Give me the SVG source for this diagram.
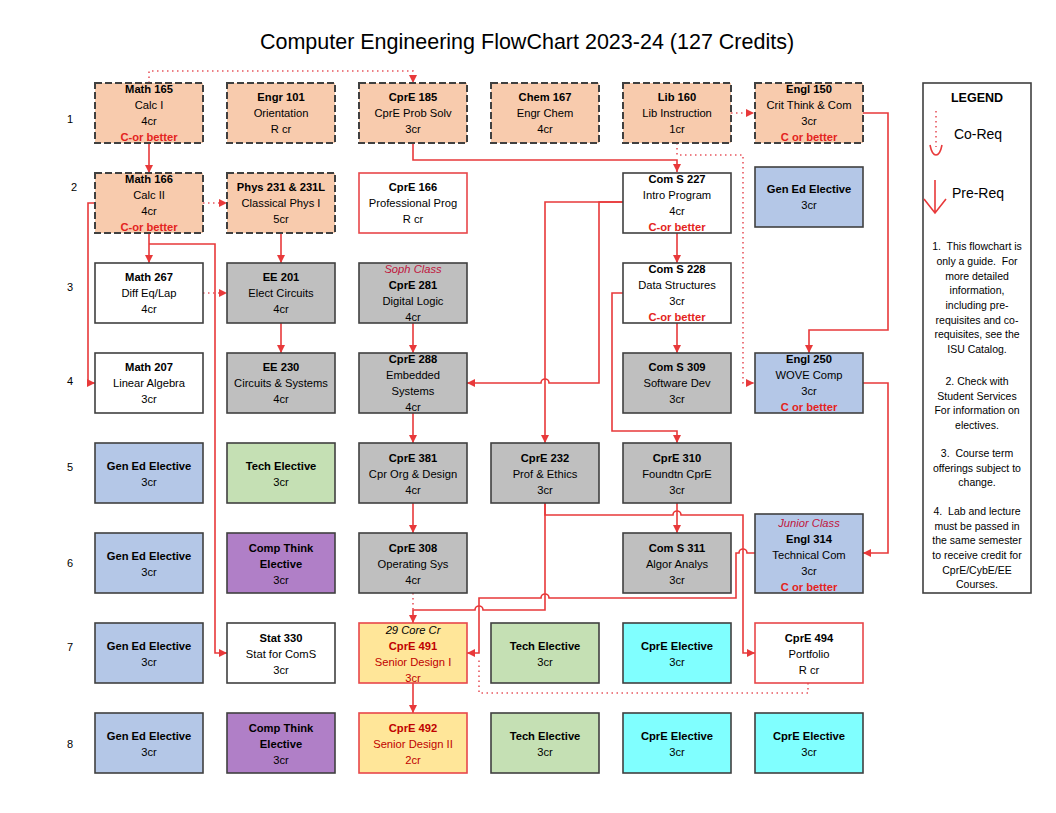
<svg xmlns="http://www.w3.org/2000/svg" width="1056" height="813" viewBox="0 0 1056 813">
<defs>
<style>
text{font-family:"Liberation Sans",Arial,sans-serif;font-size:11.2px;text-anchor:middle;fill:#000}
.b{font-weight:bold}
.r{font-weight:bold;fill:#E42320}
.i{font-style:italic;fill:#C0143C}
.ib{font-style:italic}
.dr{fill:#C00000}
.drb{fill:#C00000;font-weight:bold}
rect.n{stroke:#404040;stroke-width:1.6}
rect.peach{fill:#F8CBAD;stroke-dasharray:7 3;stroke-width:2}
rect.gray{fill:#BFBFBF}
rect.white{fill:#FFFFFF}
rect.blue{fill:#B4C7E7}
rect.green{fill:#C5E0B4}
rect.purple{fill:#B07FC7}
rect.cyan{fill:#80FFFF}
rect.yellow{fill:#FFE699}
rect.redb{stroke:#E8474A}
.c path{fill:none;stroke:#E8393A;stroke-width:1.6}
.c path.a{marker-end:url(#ah)}
.c path.d{stroke:#E8555E;stroke-dasharray:1.5 3.5}
.title{font-size:21.5px}
.row{font-size:11px}
.note{font-size:10.5px;white-space:pre}
.leg{font-size:14px}
</style>
<marker id="ah" viewBox="0 0 10 10" refX="10" refY="5" markerWidth="8" markerHeight="8" markerUnits="userSpaceOnUse" orient="auto">
<path d="M0,0 L10,5 L0,10 z" fill="#E8393A"/>
</marker>
</defs>
<rect width="1056" height="813" fill="#FFFFFF"/>
<text class="title" x="527" y="49">Computer Engineering FlowChart 2023-24 (127 Credits)</text>

<g id="row-labels">
<text class="row" x="70" y="123">1</text>
<text class="row" x="74" y="191">2</text>
<text class="row" x="70" y="291">3</text>
<text class="row" x="70" y="385">4</text>
<text class="row" x="70" y="471">5</text>
<text class="row" x="70" y="567">6</text>
<text class="row" x="70" y="651">7</text>
<text class="row" x="70" y="748">8</text>
</g>

<g id="connectors" class="c">
<path class="a" d="M149,143 V173"/>
<path class="d a" d="M149,83 V71 H413 V83"/>
<path class="a" d="M413,143 V160 H677 V172"/>
<path class="d a" d="M731,113 H754"/>
<path class="d a" d="M677,143 V155 H743 V383 H754"/>
<path class="a" d="M863,113 H888 V330 H809 V353"/>
<path class="d a" d="M203,203 H227"/>
<path class="a" d="M149,233 V263"/>
<path class="a" d="M149,244 H215 V653 H227"/>
<path class="a" d="M95,203 H88 V383 H95"/>
<path class="a" d="M281,233 V263"/>
<path class="d a" d="M203,293 H227"/>
<path class="a" d="M281,323 V353"/>
<path class="a" d="M413,323 V353"/>
<path class="a" d="M677,233 V263"/>
<path class="a" d="M623,202 H599 V383 H549 A4,4 0 0 0 541,383 H467"/>
<path class="a" d="M623,202 H545 V443"/>
<path class="a" d="M623,293 H612 V431 H677 V443"/>
<path class="a" d="M677,323 V353"/>
<path class="a" d="M413,413 V443"/>
<path class="a" d="M413,503 V533"/>
<path class="a" d="M677,503 V533"/>
<path class="a" d="M545,503 V515 H673 A4,4 0 0 1 681,515 H743 V653 H755"/>
<path class="a" d="M545,503 V610 H483 A4,4 0 0 0 475,610 H413 V623"/>
<path class="a" d="M755,553 H747 A4,4 0 0 0 739,553 H736 V598 H549 A4,4 0 0 0 541,598 H479 V653 H467"/>
<path class="a" d="M863,383 H888 V553 H863"/>
<path class="d" d="M413,593 V610"/>
<path class="d" d="M808,683 V693 H479 V657"/>
<path class="a" d="M413,683 V713"/>
</g>

<!-- Row 1 -->
<g id="math165"><rect class="n peach" x="95" y="83" width="108" height="60"/>
<text class="b" x="149" y="93">Math 165</text><text x="149" y="109">Calc I</text><text x="149" y="125">4cr</text><text class="r" x="149" y="141">C-or better</text></g>
<g id="engr101"><rect class="n peach" x="227" y="83" width="108" height="60"/>
<text class="b" x="281" y="101">Engr 101</text><text x="281" y="117">Orientation</text><text x="281" y="133">R cr</text></g>
<g id="cpre185"><rect class="n peach" x="359" y="83" width="108" height="60"/>
<text class="b" x="413" y="101">CprE 185</text><text x="413" y="117">CprE Prob Solv</text><text x="413" y="133">3cr</text></g>
<g id="chem167"><rect class="n peach" x="491" y="83" width="108" height="60"/>
<text class="b" x="545" y="101">Chem 167</text><text x="545" y="117">Engr Chem</text><text x="545" y="133">4cr</text></g>
<g id="lib160"><rect class="n peach" x="623" y="83" width="108" height="60"/>
<text class="b" x="677" y="101">Lib 160</text><text x="677" y="117">Lib Instruction</text><text x="677" y="133">1cr</text></g>
<g id="engl150"><rect class="n peach" x="755" y="83" width="108" height="60"/>
<text class="b" x="809" y="93">Engl 150</text><text x="809" y="109">Crit Think &amp; Com</text><text x="809" y="125">3cr</text><text class="r" x="809" y="141">C or better</text></g>

<!-- Row 2 -->
<g id="math166"><rect class="n peach" x="95" y="173" width="108" height="60"/>
<text class="b" x="149" y="183">Math 166</text><text x="149" y="199">Calc II</text><text x="149" y="215">4cr</text><text class="r" x="149" y="231">C-or better</text></g>
<g id="phys231"><rect class="n peach" x="227" y="173" width="108" height="60"/>
<text class="b" x="281" y="191">Phys 231 &amp; 231L</text><text x="281" y="207">Classical Phys I</text><text x="281" y="223">5cr</text></g>
<g id="cpre166"><rect class="n white redb" x="359" y="173" width="108" height="60"/>
<text class="b" x="413" y="191">CprE 166</text><text x="413" y="207">Professional Prog</text><text x="413" y="223">R cr</text></g>
<g id="coms227"><rect class="n white" x="623" y="173" width="108" height="60"/>
<text class="b" x="677" y="183">Com S 227</text><text x="677" y="199">Intro Program</text><text x="677" y="215">4cr</text><text class="r" x="677" y="231">C-or better</text></g>
<g id="gened-r2"><rect class="n blue" x="755" y="167" width="108" height="60"/>
<text class="b" x="809" y="193">Gen Ed Elective</text><text x="809" y="209">3cr</text></g>

<!-- Row 3 -->
<g id="math267"><rect class="n white" x="95" y="263" width="108" height="60"/>
<text class="b" x="149" y="281">Math 267</text><text x="149" y="297">Diff Eq/Lap</text><text x="149" y="313">4cr</text></g>
<g id="ee201"><rect class="n gray" x="227" y="263" width="108" height="60"/>
<text class="b" x="281" y="281">EE 201</text><text x="281" y="297">Elect Circuits</text><text x="281" y="313">4cr</text></g>
<g id="cpre281"><rect class="n gray" x="359" y="263" width="108" height="60"/>
<text class="i" x="413" y="273">Soph Class</text><text class="b" x="413" y="289">CprE 281</text><text x="413" y="305">Digital Logic</text><text x="413" y="321">4cr</text></g>
<g id="coms228"><rect class="n white" x="623" y="263" width="108" height="60"/>
<text class="b" x="677" y="273">Com S 228</text><text x="677" y="289">Data Structures</text><text x="677" y="305">3cr</text><text class="r" x="677" y="321">C-or better</text></g>

<!-- Row 4 -->
<g id="math207"><rect class="n white" x="95" y="353" width="108" height="60"/>
<text class="b" x="149" y="371">Math 207</text><text x="149" y="387">Linear Algebra</text><text x="149" y="403">3cr</text></g>
<g id="ee230"><rect class="n gray" x="227" y="353" width="108" height="60"/>
<text class="b" x="281" y="371">EE 230</text><text x="281" y="387">Circuits &amp; Systems</text><text x="281" y="403">4cr</text></g>
<g id="cpre288"><rect class="n gray" x="359" y="353" width="108" height="60"/>
<text class="b" x="413" y="363">CprE 288</text><text x="413" y="379">Embedded</text><text x="413" y="395">Systems</text><text x="413" y="411">4cr</text></g>
<g id="coms309"><rect class="n gray" x="623" y="353" width="108" height="60"/>
<text class="b" x="677" y="371">Com S 309</text><text x="677" y="387">Software Dev</text><text x="677" y="403">3cr</text></g>
<g id="engl250"><rect class="n blue" x="755" y="353" width="108" height="60"/>
<text class="b" x="809" y="363">Engl 250</text><text x="809" y="379">WOVE Comp</text><text x="809" y="395">3cr</text><text class="r" x="809" y="411">C or better</text></g>

<!-- Row 5 -->
<g id="gened-r5"><rect class="n blue" x="95" y="443" width="108" height="60"/>
<text class="b" x="149" y="470">Gen Ed Elective</text><text x="149" y="486">3cr</text></g>
<g id="tech-r5"><rect class="n green" x="227" y="443" width="108" height="60"/>
<text class="b" x="281" y="470">Tech Elective</text><text x="281" y="486">3cr</text></g>
<g id="cpre381"><rect class="n gray" x="359" y="443" width="108" height="60"/>
<text class="b" x="413" y="462">CprE 381</text><text x="413" y="478">Cpr Org &amp; Design</text><text x="413" y="494">4cr</text></g>
<g id="cpre232"><rect class="n gray" x="491" y="443" width="108" height="60"/>
<text class="b" x="545" y="462">CprE 232</text><text x="545" y="478">Prof &amp; Ethics</text><text x="545" y="494">3cr</text></g>
<g id="cpre310"><rect class="n gray" x="623" y="443" width="108" height="60"/>
<text class="b" x="677" y="462">CprE 310</text><text x="677" y="478">Foundtn CprE</text><text x="677" y="494">3cr</text></g>

<!-- Row 6 -->
<g id="gened-r6"><rect class="n blue" x="95" y="533" width="108" height="60"/>
<text class="b" x="149" y="560">Gen Ed Elective</text><text x="149" y="576">3cr</text></g>
<g id="compthink-r6"><rect class="n purple" x="227" y="533" width="108" height="60"/>
<text class="b" x="281" y="552">Comp Think</text><text class="b" x="281" y="568">Elective</text><text x="281" y="584">3cr</text></g>
<g id="cpre308"><rect class="n gray" x="359" y="533" width="108" height="60"/>
<text class="b" x="413" y="552">CprE 308</text><text x="413" y="568">Operating Sys</text><text x="413" y="584">4cr</text></g>
<g id="coms311"><rect class="n gray" x="623" y="533" width="108" height="60"/>
<text class="b" x="677" y="552">Com S 311</text><text x="677" y="568">Algor Analys</text><text x="677" y="584">3cr</text></g>
<g id="engl314"><rect class="n blue" x="755" y="514" width="108" height="79"/>
<text class="i" x="809" y="527">Junior Class</text><text class="b" x="809" y="543">Engl 314</text><text x="809" y="559">Technical Com</text><text x="809" y="575">3cr</text><text class="r" x="809" y="591">C or better</text></g>

<!-- Row 7 -->
<g id="gened-r7"><rect class="n blue" x="95" y="623" width="108" height="60"/>
<text class="b" x="149" y="650">Gen Ed Elective</text><text x="149" y="666">3cr</text></g>
<g id="stat330"><rect class="n white" x="227" y="623" width="108" height="60"/>
<text class="b" x="281" y="642">Stat 330</text><text x="281" y="658">Stat for ComS</text><text x="281" y="674">3cr</text></g>
<g id="cpre491"><rect class="n yellow redb" x="359" y="623" width="108" height="60"/>
<text class="ib" x="413" y="634">29 Core Cr</text><text class="drb" x="413" y="650">CprE 491</text><text class="dr" x="413" y="666">Senior Design I</text><text class="dr" x="413" y="682">3cr</text></g>
<g id="tech-r7"><rect class="n green" x="491" y="623" width="108" height="60"/>
<text class="b" x="545" y="650">Tech Elective</text><text x="545" y="666">3cr</text></g>
<g id="cpreelec-r7"><rect class="n cyan" x="623" y="623" width="108" height="60"/>
<text class="b" x="677" y="650">CprE Elective</text><text x="677" y="666">3cr</text></g>
<g id="cpre494"><rect class="n white redb" x="755" y="623" width="108" height="60"/>
<text class="b" x="809" y="642">CprE 494</text><text x="809" y="658">Portfolio</text><text x="809" y="674">R cr</text></g>

<!-- Row 8 -->
<g id="gened-r8"><rect class="n blue" x="95" y="713" width="108" height="60"/>
<text class="b" x="149" y="740">Gen Ed Elective</text><text x="149" y="756">3cr</text></g>
<g id="compthink-r8"><rect class="n purple" x="227" y="713" width="108" height="60"/>
<text class="b" x="281" y="732">Comp Think</text><text class="b" x="281" y="748">Elective</text><text x="281" y="764">3cr</text></g>
<g id="cpre492"><rect class="n yellow redb" x="359" y="713" width="108" height="60"/>
<text class="drb" x="413" y="732">CprE 492</text><text class="dr" x="413" y="748">Senior Design II</text><text class="dr" x="413" y="764">2cr</text></g>
<g id="tech-r8"><rect class="n green" x="491" y="713" width="108" height="60"/>
<text class="b" x="545" y="740">Tech Elective</text><text x="545" y="756">3cr</text></g>
<g id="cpreelec-r8a"><rect class="n cyan" x="623" y="713" width="108" height="60"/>
<text class="b" x="677" y="740">CprE Elective</text><text x="677" y="756">3cr</text></g>
<g id="cpreelec-r8b"><rect class="n cyan" x="755" y="713" width="108" height="60"/>
<text class="b" x="809" y="740">CprE Elective</text><text x="809" y="756">3cr</text></g>

<!-- Legend -->
<g id="legend">
<rect x="923" y="83" width="108" height="510" fill="#FFFFFF" stroke="#404040" stroke-width="1.6"/>
<text class="b" x="977" y="102" style="font-size:12.5px">LEGEND</text>
<path d="M936,111 V147" fill="none" stroke="#E8555E" stroke-width="1.6" stroke-dasharray="1.5 3.5"/>
<path d="M930,145 Q932,155 936,155 Q940,155 942,145" fill="none" stroke="#E8393A" stroke-width="1.6"/>
<text class="leg" x="978" y="139">Co-Req</text>
<path d="M935,180 V213 M924,199 L935,213 L946,199" fill="none" stroke="#E8393A" stroke-width="1.6"/>
<text class="leg" x="978" y="198">Pre-Req</text>
<text class="note" x="977" y="250" xml:space="preserve">1.  This flowchart is</text>
<text class="note" x="977" y="265" xml:space="preserve">only a guide.  For</text>
<text class="note" x="977" y="280">more detailed</text>
<text class="note" x="977" y="294">information,</text>
<text class="note" x="977" y="309">including pre-</text>
<text class="note" x="977" y="324">requisites and co-</text>
<text class="note" x="977" y="338">requisites, see the</text>
<text class="note" x="977" y="353">ISU Catalog.</text>
<text class="note" x="977" y="385">2. Check with</text>
<text class="note" x="977" y="400">Student Services</text>
<text class="note" x="977" y="414">For information on</text>
<text class="note" x="977" y="429">electives.</text>
<text class="note" x="977" y="457" xml:space="preserve">3.  Course term</text>
<text class="note" x="977" y="472">offerings subject to</text>
<text class="note" x="977" y="486">change.</text>
<text class="note" x="977" y="515" xml:space="preserve">4.  Lab and lecture</text>
<text class="note" x="977" y="530">must be passed in</text>
<text class="note" x="977" y="544">the same semester</text>
<text class="note" x="977" y="559">to receive credit for</text>
<text class="note" x="977" y="574">CprE/CybE/EE</text>
<text class="note" x="977" y="588">Courses.</text>
</g>
</svg>
